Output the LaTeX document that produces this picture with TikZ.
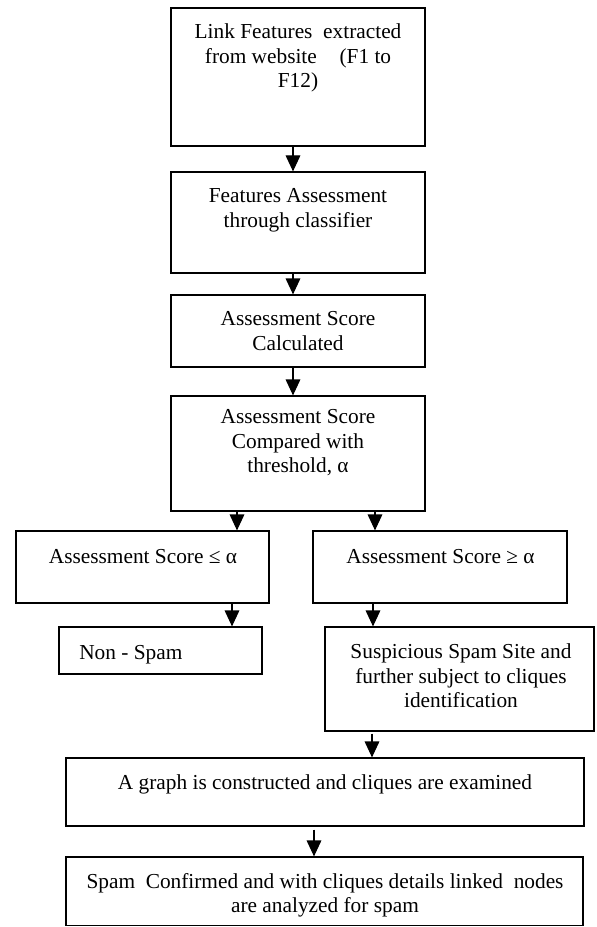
\documentclass[tikz,border=0pt]{standalone}
\usepackage{fontspec}
\setmainfont{Liberation Serif}
\usetikzlibrary{arrows.meta,calc,fit}
\begin{document}
\begin{tikzpicture}[x=0.75pt,y=-0.75pt,
  box/.style={draw,line width=0.9pt,inner sep=0pt},
  txt/.style={align=center,inner sep=0pt,font=\fontsize{16}{18.4}\selectfont},
  arr/.style={line width=0.9pt,-{Triangle[width=11pt,length=12pt]}}]
\useasboundingbox (0,0) rectangle (596,927);
% boxes
\node[box,fit={(171,8)(425,146)}] (b1) {};
\node[box,fit={(171,172)(425,273)}] (b2) {};
\node[box,fit={(171,295)(425,367)}] (b3) {};
\node[box,fit={(171,396)(425,511)}] (b4) {};
\node[box,fit={(16,531)(269,603)}] (bl) {};
\node[box,fit={(313,531)(567,603)}] (br) {};
\node[box,fit={(59,627)(262,674)}] (ns) {};
\node[box,fit={(325,627)(594,731)}] (ss) {};
\node[box,fit={(66,758)(584,826)}] (gr) {};
\node[box,fit={(66,857)(583,925.5)}] (sp) {};
% texts
\node[txt] (t1) at (298,58) {Link Features\ \ extracted\\from website\hspace{17pt}(F1 to\\F12)};
\node[txt] (t2) at (298,210.3) {Features Assessment\\through classifier};
\node[txt] (t3) at (298,331) {Assessment Score\\Calculated};
\node[txt] (t4) at (298,442.7) {Assessment Score\\Compared with\\threshold, α};
\node[txt,anchor=base] (tl) at (143,563) {Assessment Score ≤ α};
\node[txt,anchor=base] (tr) at (440.5,563) {Assessment Score ≥ α};
\node[txt,anchor=base west] (tn) at (79,659) {Non - Spam};
\node[txt] (ts) at (461,676) {Suspicious Spam Site and\\further subject to cliques\\identification};
\node[txt,anchor=base] (tg) at (325,789) {A graph is constructed and cliques are examined};
\node[txt] (tp) at (325,895.3) {Spam\ \ Confirmed and with cliques details linked\ \ nodes\\are analyzed for spam};
% connectors
\draw[arr] ($(b1.south)+(-5,0)$) -- ($(b2.north)+(-5,0)$);
\draw[arr] ($(b2.south)+(-5,0)$) -- ($(b3.north)+(-5,0)$);
\draw[arr] ($(b3.south)+(-5,0)$) -- ($(b4.north)+(-5,0)$);
\draw[arr] ($(b4.south)+(-61,0)$) -- ($(bl.north)+(94.5,0)$);
\draw[arr] ($(b4.south)+(77,0)$) -- ($(br.north)+(-65,0)$);
\draw[arr] ($(bl.south)+(89.5,0)$) -- ($(ns.north)+(71.5,0)$);
\draw[arr] ($(br.south)+(-67,0)$) -- ($(ss.north)+(-86.5,0)$);
\draw[arr] ($(ss.south)+(-87.5,2)$) -- ($(gr.north)+(47,0)$);
\draw[arr] ($(gr.south)+(-11,3)$) -- ($(sp.north)+(-10.5,0)$);
\end{tikzpicture}
\end{document}
